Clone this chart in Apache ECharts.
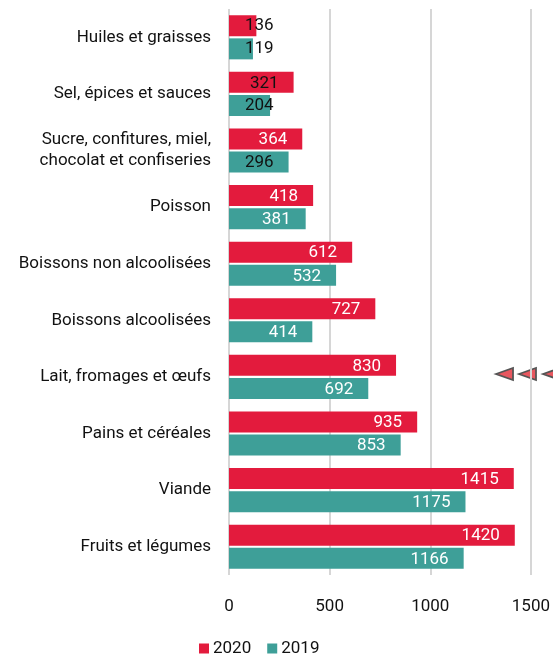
<!DOCTYPE html>
<html>
<head>
<meta charset="utf-8">
<script src="https://cdn.jsdelivr.net/npm/echarts@6/dist/echarts.min.js"></script>
<style>
  html, body { margin: 0; padding: 0; background: #fff; }
  #chart { width: 553px; height: 655px; }
</style>
</head>
<body>
<div id="chart"></div>
<script>
// catégories, du haut vers le bas
let categories = [
  'Huiles et graisses',
  'Sel, épices et sauces',
  'Sucre, confitures, miel,\nchocolat et confiseries',
  'Poisson',
  'Boissons non alcoolisées',
  'Boissons alcoolisées',
  'Lait, fromages et œufs',
  'Pains et céréales',
  'Viande',
  'Fruits et légumes'
];
let values2020 = [136, 321, 364, 418, 612, 727, 830, 935, 1415, 1420];
let values2019 = [119, 204, 296, 381, 532, 414, 692, 853, 1175, 1166];
let xTicks = [0, 500, 1000, 1500];

let red = '#e31b3d';
let teal = '#3e9f98';

// petites valeurs: texte noir, calé à gauche si la barre est trop courte
function toData(arr) {
  return arr.map(function (v) {
    if (v < 250) {
      return { value: v, label: { color: '#111', position: 'insideLeft', offset: [11, 0] } };
    }
    if (v < 330) {
      return { value: v, label: { color: '#111' } };
    }
    return v;
  });
}

function arrow(x) {
  return {
    type: 'polygon',
    shape: { points: [[x, 374], [x + 17, 368], [x + 17, 380]] },
    style: { fill: '#e8575f', stroke: '#555', lineWidth: 1.8 }
  };
}

let barLabel = { show: true, position: 'insideRight', color: '#fff', fontSize: 17, offset: [-10, 1] };

let option = {
  animation: false,
  textStyle: { fontFamily: 'Roboto' },
  grid: { left: 229, right: 21, top: 9, bottom: 80 },
  legend: {
    top: 635,
    left: 194,
    itemWidth: 10,
    itemHeight: 10,
    itemGap: 16,
    icon: 'rect',
    textStyle: { fontSize: 17, color: '#111', fontFamily: 'Roboto', padding: [0, 0, 0, -1] },
    data: ['2020', '2019']
  },
  xAxis: {
    type: 'value',
    min: 0,
    max: 1500,
    interval: 500,
    axisLine: { show: false },
    axisTick: { show: false },
    axisLabel: {
      fontSize: 17, color: '#111', margin: 23,
      formatter: function (v) { return xTicks.indexOf(v) >= 0 ? String(v) : ''; }
    },
    splitLine: { lineStyle: { color: '#d6d6d6', width: 2 } }
  },
  yAxis: {
    type: 'category',
    inverse: true,
    data: categories,
    axisLine: { show: false },
    axisTick: { show: false },
    axisLabel: { fontSize: 17, color: '#111', margin: 18, lineHeight: 21, align: 'right' }
  },
  series: [
    {
      name: '2020',
      type: 'bar',
      data: toData(values2020),
      barWidth: 21,
      barGap: '10%',
      itemStyle: { color: red },
      label: barLabel
    },
    {
      name: '2019',
      type: 'bar',
      data: toData(values2019),
      barWidth: 21,
      itemStyle: { color: teal },
      label: barLabel
    }
  ],
  graphic: [arrow(496), arrow(519), arrow(543)]
};

var chartDom = document.getElementById('chart');
var chart = echarts.init(chartDom);
chart.setOption(option);
</script>
</body>
</html>
